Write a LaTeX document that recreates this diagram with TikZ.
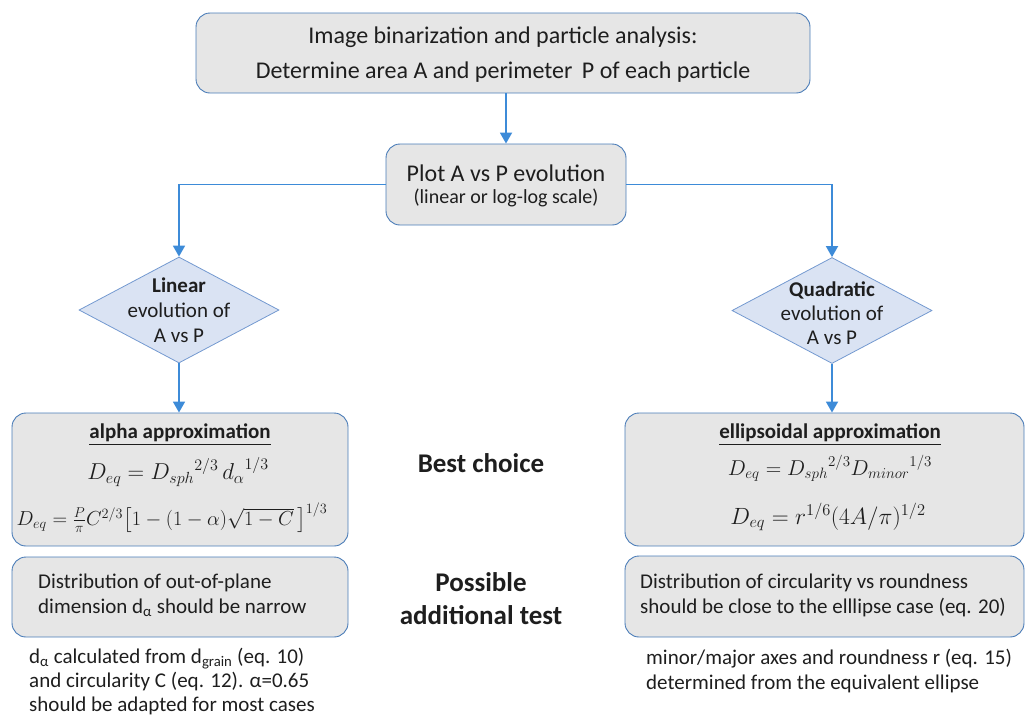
\RequirePackage{fix-cm}
\documentclass[tikz,border=0pt]{standalone}
\usepackage{amsmath}
\usepackage[no-math]{fontspec}
\setmainfont{Carlito}
\usetikzlibrary{shapes.geometric,arrows.meta}
\definecolor{boxfill}{HTML}{E6E6E6}
\definecolor{boxline}{HTML}{4A7CB8}
\definecolor{diafill}{HTML}{DAE3F3}
\definecolor{dialine}{HTML}{7399D0}
\definecolor{arrowc}{HTML}{3D8BD8}
\definecolor{txt}{HTML}{1E1E1E}
\tikzset{
  box/.style={draw=boxline, fill=boxfill, rounded corners=14pt, line width=0.9pt, inner sep=0pt, text=txt, align=center},
  dia/.style={diamond, draw=dialine, fill=diafill, line width=0.8pt, minimum width=200pt, minimum height=106pt, inner sep=0pt},
  conn/.style={draw=arrowc, line width=1.8pt, -{Triangle[width=12pt,length=11pt]}},
  lbl/.style={text=txt, inner sep=0pt, align=center},
  lbll/.style={text=txt, inner sep=0pt, align=left},
  mth/.style={text=txt, inner sep=0pt},
}
\begin{document}
\begin{tikzpicture}[x=1pt,y=-1pt]
\useasboundingbox (0,0) rectangle (1025,716);
% boxes
\node[box, minimum width=614pt, minimum height=80pt] (top) at (503,53) {};
\node[lbl, font=\fontsize{24}{35}\selectfont] (top1) at (503,37.5) {Image binarization and particle analysis:};
\node[lbl, font=\fontsize{24}{35}\selectfont] (top2) at (503,72) {Determine area A and perimeter\, P of each particle};
\node[box, minimum width=240pt, minimum height=81pt] (plot) at (506,184.5) {};
\node[lbl, font=\fontsize{24}{25}\selectfont] (plot1) at (506,173) {Plot A vs P evolution};
\node[lbl, font=\fontsize{20}{25}\selectfont] (plot2) at (506,198) {(linear or log-log scale)};
\node[dia] (dL) at (179,310) {};
\node[dia] (dR) at (832,310.5) {};
\node[lbl, font=\fontsize{21}{25}\selectfont] (tL) at (179,310) {\textbf{Linear}\\ evolution of\\ A vs P};
\node[lbl, font=\fontsize{21}{24}\selectfont] (tR) at (832,313) {\textbf{Quadratic}\\ evolution of\\ A vs P};
\node[box, minimum width=336pt, minimum height=133pt] (alpha) at (180,479.5) {};
\node[box, minimum width=399pt, minimum height=133pt] (ellip) at (824.5,479.5) {};
\node[box, minimum width=336pt, minimum height=80pt] (testL) at (180,597) {};
\node[box, minimum width=399pt, minimum height=81pt] (testR) at (824.5,596.5) {};
% box contents
\node[lbl, font=\fontsize{21}{24}\selectfont] (aT) at (180,435) {\underline{\textbf{alpha approximation}}};
\node[mth, font=\fontsize{23}{26}\selectfont] (aE1) at (178,472) {$D_{eq} = {D_{sph}}^{2/3}\,{d_{\alpha}}^{1/3}$};
\node[mth, font=\fontsize{20.3}{24}\selectfont] (aE2) at (172,518) {$D_{eq} = \tfrac{P}{\pi}C^{2/3}\bigl[1-(1-\alpha)\sqrt{1-C}\,\bigr]^{1/3}$};
\node[lbl, font=\fontsize{21}{24}\selectfont] (eT) at (830,435) {\underline{\textbf{ellipsoidal approximation}}};
\node[mth, font=\fontsize{21.5}{24}\selectfont] (eE1) at (830,468) {$D_{eq} = {D_{sph}}^{2/3}{D_{minor}}^{1/3}$};
\node[mth, font=\fontsize{23.5}{26}\selectfont] (eE2) at (828,517) {$D_{eq} = r^{1/6}(4A/\pi)^{1/2}$};
\node[lbll, anchor=west, font=\fontsize{21}{25}\selectfont] (tLx) at (38,595.5) {Distribution of out-of-plane\\ dimension d\textsubscript{α} should be narrow};
\node[lbll, anchor=west, font=\fontsize{21}{25}\selectfont] (tRx) at (640,595.5) {Distribution of circularity vs roundness\\ should be close to the elllipse case (eq. 20)};
% middle labels
\node[lbl, font=\fontsize{27}{32}\selectfont\bfseries] (best) at (481,463) {Best choice};
\node[lbl, font=\fontsize{27}{33}\selectfont\bfseries] (poss) at (481,598.5) {Possible\\ additional test};
% bottom notes
\node[lbll, anchor=west, font=\fontsize{21}{24}\selectfont] (nL) at (29,681.5) {d\textsubscript{α} calculated from d\textsubscript{grain} (eq. 10)\\ and circularity C (eq. 12). α=0.65\\ should be adapted for most cases};
\node[lbll, anchor=west, font=\fontsize{21}{25}\selectfont] (nR) at (646,670.5) {minor/major axes and roundness r (eq. 15)\\ determined from the equivalent ellipse};
% connectors
\draw[conn] (plot.north |- top.south) -- (plot.north);
\draw[conn] (plot.west) -| (dL.north);
\draw[conn] (plot.east) -| (dR.north);
\draw[conn] (dL.south) -- (dL.south |- alpha.north);
\draw[conn] (dR.south) -- (dR.south |- ellip.north);
\end{tikzpicture}
\end{document}
